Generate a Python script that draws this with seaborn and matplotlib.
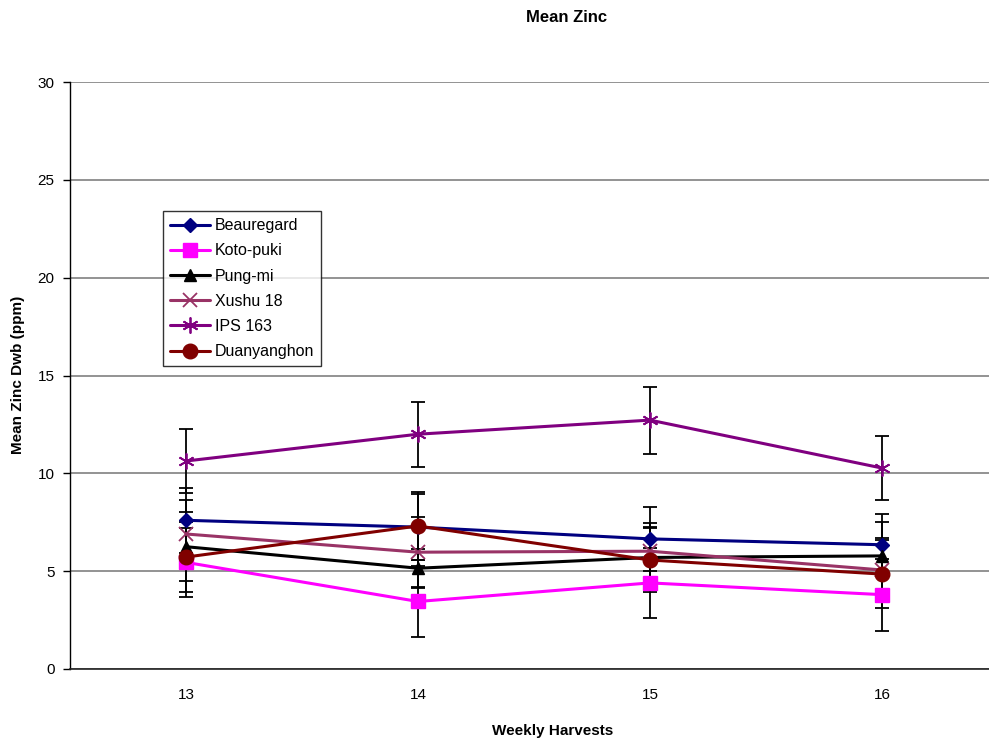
import matplotlib
matplotlib.use("Agg")
import matplotlib.pyplot as plt
import seaborn as sns
import pandas as pd
import numpy as np

weeks = ["13", "14", "15", "16"]
series = ["Beauregard", "Koto-puki", "Pung-mi", "Xushu 18", "IPS 163", "Duanyanghon"]
beauregard = [7.6, 7.25, 6.65, 6.35]
koto_puki = [5.45, 3.45, 4.4, 3.8]
pung_mi = [6.25, 5.15, 5.7, 5.78]
xushu_18 = [6.9, 5.97, 6.02, 5.06]
ips_163 = [10.63, 12.0, 12.72, 10.27]
duanyanghon = [5.72, 7.31, 5.57, 4.85]

err_beauregard = [1.65, 1.68, 1.64, 1.58]
err_koto_puki = [1.75, 1.83, 1.78, 1.84]
err_pung_mi = [1.75, 1.0, 1.56, 1.74]
err_xushu_18 = [1.74, 1.79, 1.43, 1.63]
err_ips_163 = [1.63, 1.66, 1.71, 1.64]
err_duanyanghon = [1.79, 1.73, 1.64, 1.73]

values = [beauregard, koto_puki, pung_mi, xushu_18, ips_163, duanyanghon]
errors = [err_beauregard, err_koto_puki, err_pung_mi, err_xushu_18, err_ips_163, err_duanyanghon]

colors = ["#000080", "#FF00FF", "#000000", "#993366", "#800080", "#800000"]
markers = ["D", "s", "^", "x", (6, 2, 0), "o"]
msizes = [7.5, 10, 8.5, 10, 11.5, 10.5]

sns.set_style("white")
plt.rcParams['font.family'] = ['Liberation Sans', 'DejaVu Sans']
plt.rcParams['text.color'] = 'black'
plt.rcParams['axes.labelcolor'] = 'black'
plt.rcParams['xtick.color'] = 'black'
plt.rcParams['ytick.color'] = 'black'

fig = plt.figure(figsize=(9.89, 7.42), dpi=100)
W, H = 989, 742
ax = fig.add_axes([70 / W, 1 - 669 / H, (998 - 70) / W, (669 - 82) / H])

xpos = np.arange(len(weeks))
for name, vals, errs, c, m, ms in zip(series, values, errors, colors, markers, msizes):
    ax.errorbar(xpos, vals, yerr=errs, fmt="none", ecolor="black", elinewidth=1.3,
                capsize=5, capthick=1.3, zorder=2)
    df = pd.DataFrame({"x": xpos, "y": vals})
    sns.lineplot(data=df, x="x", y="y", ax=ax, color=c, marker=m, markersize=ms,
                 markeredgecolor=c, markerfacecolor=c, markeredgewidth=1.3 if m in ("x", (6, 2, 0)) else 1,
                 linewidth=2.2, label=name, zorder=3)

ax.set_xlim(-0.5, 3.5)
ax.set_ylim(0, 30)
ax.set_yticks(np.arange(0, 31, 5))
ax.set_xticks(xpos)
ax.set_xticklabels(weeks)
ax.set_xticks([-0.5, 0.5, 1.5, 2.5], minor=True)
ax.tick_params(axis="x", which="major", length=0, labelsize=11, pad=14)
ax.tick_params(axis="x", which="minor", length=5, width=1, color="black", direction="out")
ax.tick_params(axis="y", length=5, width=1, color="black", direction="out", labelsize=11, left=True, pad=6)
ax.yaxis.grid(True, color="#808080", linewidth=1.2)
ax.set_axisbelow(True)
for s in ["top", "right"]:
    ax.spines[s].set_visible(False)
ax.spines["left"].set_color("black")
ax.spines["bottom"].set_color("#222222")
ax.spines["left"].set_linewidth(1)
ax.spines["bottom"].set_linewidth(1.2)

ax.set_xlabel("")
ax.set_ylabel("")
fig.text(567 / W, 1 - 17 / H, "Mean Zinc", ha="center", va="center", fontsize=12, fontweight="bold")
fig.text(553 / W, 1 - 731 / H, "Weekly Harvests", ha="center", va="center", fontsize=11, fontweight="bold")
fig.text(18 / W, 1 - 375 / H, "Mean Zinc Dwb (ppm)", ha="center", va="center", rotation=90,
         fontsize=11, fontweight="bold")

leg = ax.legend(loc="upper left", bbox_to_anchor=((163 - 70) / (998 - 70), (669 - 211) / (669 - 82)),
                frameon=True, fancybox=False, edgecolor="black", fontsize=11.5, handlelength=2.5,
                borderpad=0.45, labelspacing=0.64, handletextpad=0.3, borderaxespad=0)
leg.get_frame().set_linewidth(1)

fig.savefig("out.png", dpi=100)
